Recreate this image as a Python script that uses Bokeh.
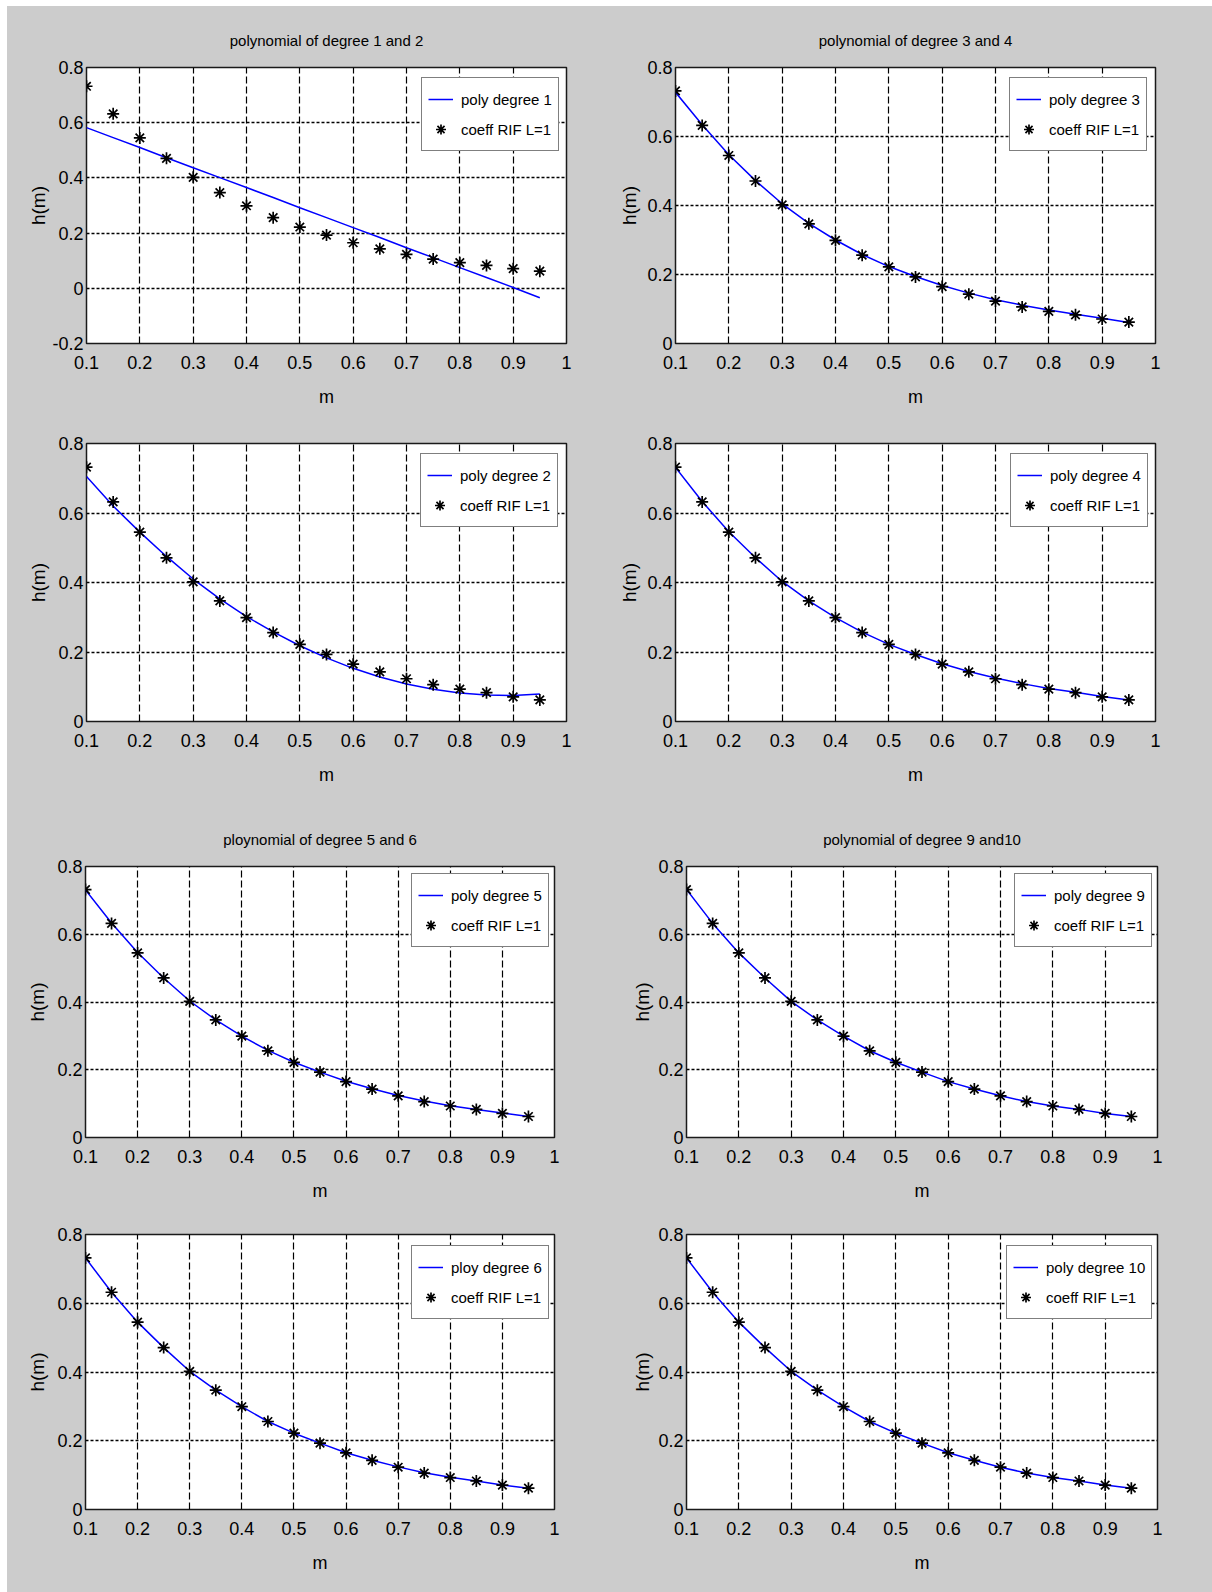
from bokeh.plotting import figure
from bokeh.layouts import column, row
from bokeh.models import Legend, LegendItem, FixedTicker
from bokeh.embed import file_html
from bokeh.resources import INLINE

# ---- data -------------------------------------------------------------
m = [0.10, 0.15, 0.20, 0.25, 0.30, 0.35, 0.40, 0.45, 0.50,
     0.55, 0.60, 0.65, 0.70, 0.75, 0.80, 0.85, 0.90, 0.95]

# FIR coefficients (L=1)
h_rif = [0.732, 0.632, 0.545, 0.471, 0.402, 0.347, 0.299, 0.256, 0.222,
         0.193, 0.165, 0.143, 0.123, 0.106, 0.093, 0.083, 0.071, 0.062]

# polynomial approximations evaluated at m
fit_deg1 = [0.582, 0.546, 0.510, 0.473, 0.437, 0.401, 0.365, 0.329, 0.292,
            0.256, 0.220, 0.184, 0.147, 0.111, 0.075, 0.039, 0.003, -0.034]
fit_deg2 = [0.705, 0.620, 0.545, 0.475, 0.410, 0.353, 0.302, 0.258, 0.218,
            0.183, 0.153, 0.128, 0.108, 0.093, 0.082, 0.076, 0.075, 0.079]
fit_deg3 = [0.728, 0.634, 0.547, 0.472, 0.405, 0.348, 0.300, 0.258, 0.223,
            0.194, 0.168, 0.146, 0.127, 0.111, 0.097, 0.085, 0.073, 0.061]
fit_deg4 = [0.731, 0.633, 0.546, 0.471, 0.403, 0.347, 0.299, 0.257, 0.222,
            0.193, 0.166, 0.144, 0.125, 0.109, 0.095, 0.084, 0.072, 0.062]
fit_deg5 = [0.731, 0.633, 0.546, 0.471, 0.403, 0.347, 0.299, 0.257, 0.222,
            0.193, 0.166, 0.144, 0.124, 0.108, 0.094, 0.083, 0.072, 0.062]
fit_deg6 = [0.732, 0.632, 0.545, 0.471, 0.402, 0.347, 0.299, 0.256, 0.222,
            0.193, 0.165, 0.143, 0.124, 0.107, 0.094, 0.083, 0.071, 0.062]
fit_deg9 = [0.732, 0.632, 0.545, 0.471, 0.402, 0.347, 0.299, 0.256, 0.222,
            0.193, 0.165, 0.143, 0.123, 0.106, 0.093, 0.083, 0.071, 0.062]
fit_deg10 = [0.732, 0.632, 0.545, 0.471, 0.402, 0.347, 0.299, 0.256, 0.222,
             0.193, 0.165, 0.143, 0.123, 0.106, 0.093, 0.083, 0.071, 0.062]

x_ticks = [0.1, 0.2, 0.3, 0.4, 0.5, 0.6, 0.7, 0.8, 0.9, 1.0]
x_tick_labels = ["0.1", "0.2", "0.3", "0.4", "0.5", "0.6", "0.7", "0.8", "0.9", "1"]
y_ticks_a = [-0.2, 0.0, 0.2, 0.4, 0.6, 0.8]
y_tick_labels_a = ["-0.2", "0", "0.2", "0.4", "0.6", "0.8"]
y_ticks_b = [0.0, 0.2, 0.4, 0.6, 0.8]
y_tick_labels_b = ["0", "0.2", "0.4", "0.6", "0.8"]

titles = ["polynomial of degree 1 and 2", "polynomial of degree 3 and 4",
          "ploynomial of degree 5 and 6", "polynomial of degree 9 and10"]
fit_labels = ["poly degree 1", "poly degree 3", "poly degree 2", "poly degree 4",
              "poly degree 5", "poly degree 9", "ploy degree 6", "poly degree 10"]
point_label = "coeff RIF L=1"

# ---- styling ------------------------------------------------------------
GRAY = "#cccccc"
SANS = "Liberation Sans"


def panel(fit, fit_label, title, yticks, ylabels, width, height,
          borders, legend_loc, ylabel_standoff):
    bl, br, bt, bb = borders
    p = figure(width=width, height=height,
               x_range=(0.1, 1.0), y_range=(yticks[0], yticks[-1]),
               output_backend="svg", toolbar_location=None,
               min_border_left=bl, min_border_right=br,
               min_border_top=bt, min_border_bottom=bb,
               background_fill_color="white", border_fill_color=GRAY,
               outline_line_color="#1a1a1a", outline_line_width=1.5,
               title=title)
    if title:
        p.title.text_font = SANS
        p.title.text_font_size = "15px"
        p.title.text_font_style = "normal"
        p.title.text_color = "black"
        p.title.align = "center"
        p.title.standoff = 37

    p.xaxis.ticker = FixedTicker(ticks=x_ticks)
    p.yaxis.ticker = FixedTicker(ticks=yticks)
    p.xaxis.major_label_overrides = dict(zip(x_ticks, x_tick_labels))
    p.yaxis.major_label_overrides = dict(zip(yticks, ylabels))
    p.xaxis.axis_label = "m"
    p.yaxis.axis_label = "h(m)"
    for ax in (p.xaxis[0], p.yaxis[0]):
        ax.axis_line_color = None
        ax.major_tick_line_color = None
        ax.minor_tick_line_color = None
        ax.major_tick_in = 0
        ax.major_tick_out = 0
        ax.minor_tick_in = 0
        ax.minor_tick_out = 0
        ax.major_label_text_font = SANS
        ax.major_label_text_font_size = "18px"
        ax.major_label_text_color = "black"
        ax.axis_label_text_font = SANS
        ax.axis_label_text_font_style = "normal"
        ax.axis_label_text_color = "black"
    p.xaxis.axis_label_text_font_size = "18px"
    p.yaxis.axis_label_text_font_size = "19px"
    p.xaxis.major_label_standoff = 12
    p.yaxis.major_label_standoff = 3
    p.xaxis.axis_label_standoff = 15
    p.yaxis.axis_label_standoff = ylabel_standoff

    p.xgrid.ticker = FixedTicker(ticks=x_ticks[1:-1])
    p.ygrid.ticker = FixedTicker(ticks=yticks[1:-1])
    p.xgrid.grid_line_color = "black"
    p.xgrid.grid_line_width = 1.2
    p.xgrid.grid_line_dash = "7 3"
    p.ygrid.grid_line_color = "black"
    p.ygrid.grid_line_width = 1.6
    p.ygrid.grid_line_dash = "3 2"

    r_fit = p.line(m, fit, line_color="#0000ff", line_width=1.5)
    r_pts = p.scatter(m, h_rif, marker="asterisk", size=12,
                      line_color="black", line_width=1.7)

    legend = Legend(items=[LegendItem(label=fit_label, renderers=[r_fit]),
                           LegendItem(label=point_label, renderers=[r_pts])],
                    location=legend_loc, margin=0, padding=6, spacing=0,
                    glyph_width=25, glyph_height=30, label_height=30,
                    label_standoff=8, label_text_font=SANS,
                    label_text_font_size="15px", label_text_color="black",
                    border_line_color="black", border_line_width=1.5,
                    background_fill_color="white", background_fill_alpha=1.0)
    p.add_layout(legend)
    return p


# left column 593 px wide, right column 612 px wide
p1 = panel(fit_deg1, fit_labels[0], titles[0], y_ticks_a, y_tick_labels_a,
           593, 414, (79, 34, 61, 77), (335, 192), 0)
p2 = panel(fit_deg3, fit_labels[1], titles[1], y_ticks_b, y_tick_labels_b,
           612, 414, (75, 57, 61, 77), (334, 192), 4)
p3 = panel(fit_deg2, fit_labels[2], None, y_ticks_b, y_tick_labels_b,
           593, 380, (79, 34, 23, 79), (334, 194), 6)
p4 = panel(fit_deg4, fit_labels[3], None, y_ticks_b, y_tick_labels_b,
           612, 380, (75, 57, 23, 79), (335, 194), 4)
p5 = panel(fit_deg5, fit_labels[4], titles[2], y_ticks_b, y_tick_labels_b,
           593, 412, (78, 46, 66, 75), (326, 190), 6)
p6 = panel(fit_deg9, fit_labels[5], titles[3], y_ticks_b, y_tick_labels_b,
           612, 412, (86, 55, 66, 75), (328, 190), 2)
p7 = panel(fit_deg6, fit_labels[6], None, y_ticks_b, y_tick_labels_b,
           593, 380, (78, 46, 22, 83), (326, 190), 6)
p8 = panel(fit_deg10, fit_labels[7], None, y_ticks_b, y_tick_labels_b,
           612, 380, (86, 55, 22, 83), (320, 190), 2)

bg = {"background-color": GRAY}
layout = column(row(p1, p2, spacing=0, styles=bg),
                row(p3, p4, spacing=0, styles=bg),
                row(p5, p6, spacing=0, styles=bg),
                row(p7, p8, spacing=0, styles=bg),
                spacing=0, margin=(6, 0, 0, 7), styles=bg)

open("out.html", "w").write(file_html(layout, INLINE))
